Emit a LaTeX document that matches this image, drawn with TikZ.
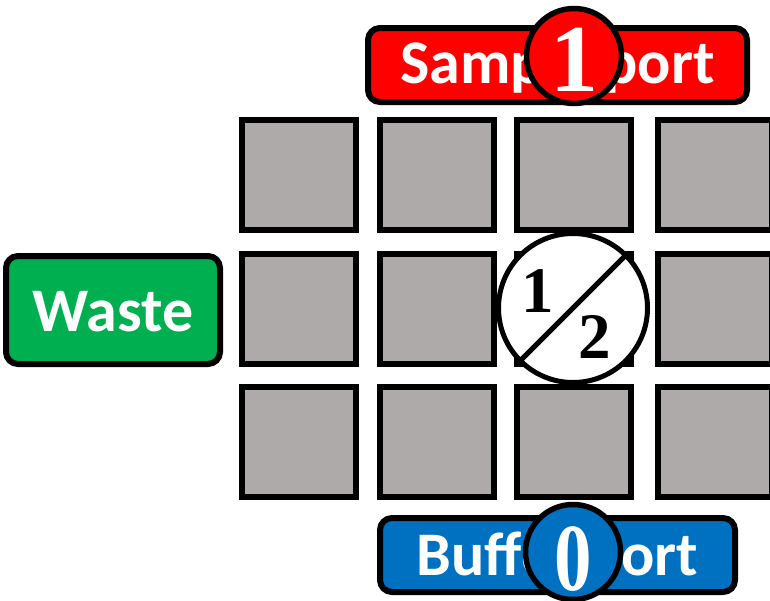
\documentclass[tikz,border=0pt]{standalone}
\usepackage{fontspec}
\setmainfont{Carlito}
\newfontfamily\digitfont{Liberation Serif}
\definecolor{cellgray}{HTML}{AEAAAA}
\definecolor{portred}{HTML}{FF0000}
\definecolor{portblue}{HTML}{0070C0}
\definecolor{wastegreen}{HTML}{00B050}
\begin{document}
\begin{tikzpicture}[x=1pt,y=-1pt,
  cell/.style={draw=black, line width=6pt, fill=cellgray, minimum width=114pt, minimum height=110pt, inner sep=0pt, outer sep=0pt},
  portbox/.style={draw=black, line width=6pt, rounded corners=12pt, inner sep=0pt, outer sep=0pt, text=white, font=\bfseries\fontsize{62}{62}\selectfont, text depth=4pt},
  portcircle/.style={circle, draw=black, line width=5.5pt, minimum size=95pt, inner sep=0pt, outer sep=0pt, text=white, font=\digitfont\bfseries\fontsize{96}{96}\selectfont, text depth=0pt},
  halfdigit/.style={anchor=base, inner sep=0pt, text=black, font=\digitfont\bfseries\fontsize{65}{65}\selectfont}
]
\useasboundingbox (0,0) rectangle (770,600);
% grid of cells
\foreach \cx/\xx in {1/299, 2/437, 3/573.5, 4/715}{
  \foreach \ry/\yy in {1/175, 2/309, 3/442}{
    \node[cell] (c\cx\ry) at (\xx,\yy) {};
  }
}
% ports
\node[portbox, fill=portred, minimum width=379pt, minimum height=74pt, text height=40pt] (sample) at (557.5,65) {Sample port};
\node[portbox, fill=portblue, minimum width=355pt, minimum height=74pt, text height=44pt] (buffer) at (557.5,555) {Buffer port};
\node[portbox, fill=wastegreen, minimum width=214pt, minimum height=108pt, text height=46pt] (waste) at (113,310) {Waste};
% numbered circles
\node[portcircle, fill=portred, text height=70pt] (one) at (574,56) {1};
\node[portcircle, fill=portblue, text height=76pt] (zero) at (573,552) {\scalebox{0.78}[1]{0}};
% half circle
\node[circle, draw=black, line width=5pt, fill=white, minimum size=149pt, inner sep=0pt, outer sep=0pt] (half) at (573,308) {};
\draw[line width=5pt] (half.45) -- (half.225);
\node[halfdigit] (hone) at (538,312) {1};
\node[halfdigit] (htwo) at (595,358) {2};
\end{tikzpicture}
\end{document}
